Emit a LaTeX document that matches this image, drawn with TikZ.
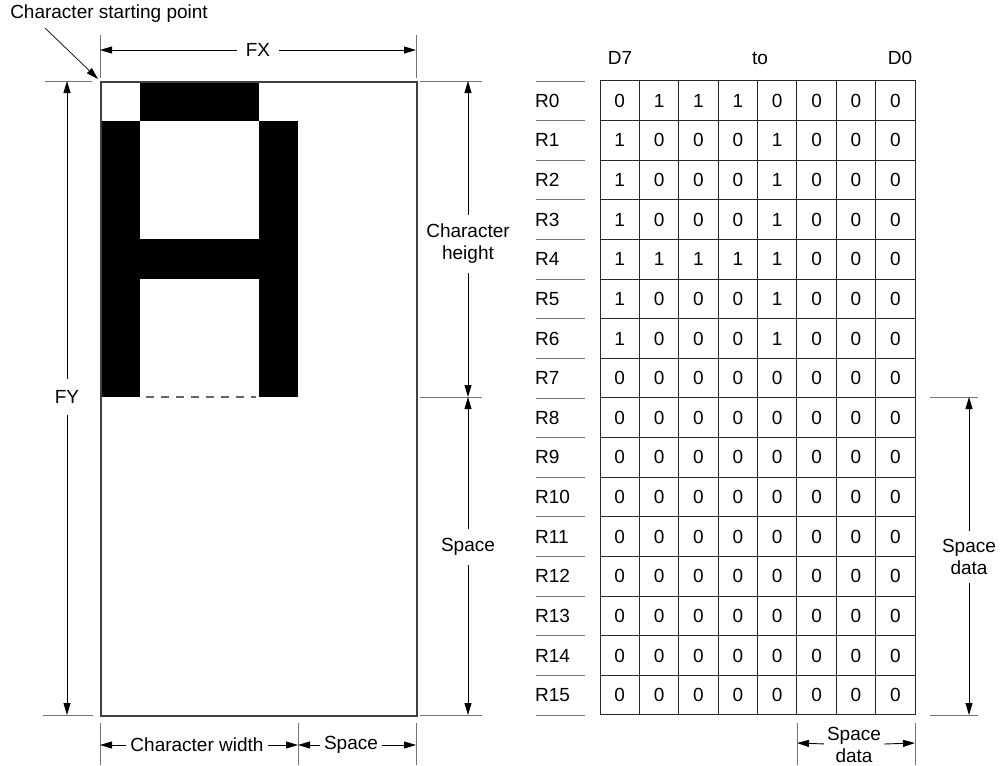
\documentclass[tikz,border=0pt]{standalone}
\usepackage{fontspec}
\setmainfont{Liberation Sans}
\usetikzlibrary{arrows.meta,positioning}
\newcommand{\dimfont}{\fontsize{19}{22}\selectfont}

\begin{document}
\begin{tikzpicture}[
  x=1pt, y=-1pt,
  tick/.style={draw=black!55, line width=1pt},
  dimarrow/.style={-{Triangle[length=12pt,width=7pt]}, line width=0.9pt},
  dimlabel/.style={font=\dimfont, align=center, inner sep=4pt},
  cell/.style={draw=black!85, line width=1pt, minimum width=39.375pt, minimum height=39.625pt, inner sep=0pt, font=\dimfont},
  rowlabel/.style={font=\dimfont, anchor=west, inner sep=0pt},
  pix/.style={fill=black}
]
  \useasboundingbox (0,0) rectangle (1002,766);

  % Glyph pixels
  \fill[pix] (100,120.5) rectangle (139.5,397);
  \fill[pix] (258.5,120.5) rectangle (298,397);
  \fill[pix] (139.5,81) rectangle (258.5,120.5);
  \fill[pix] (139.5,239) rectangle (258.5,278.5);
  \draw[black!60, line width=1.3pt, dash pattern=on 8pt off 7pt] (146,397) -- (256,397);

  % Character frame
  \node[draw=black!75, line width=1.5pt, minimum width=316pt, minimum height=634pt,
        inner sep=0pt, anchor=north west] (frame) at (100,81) {};

  % Character starting point
  \node[dimlabel, inner sep=1pt] (start) at (109,14) {Character starting point};
  \coordinate (startfoot) at (45,28);
  \coordinate (origin) at (98,79);
  \draw[dimarrow, line width=0.7pt] (startfoot) -- (origin);

  % FX
  \draw[tick] (100,35) -- (100,78);
  \draw[tick] (416,35) -- (416,78);
  \coordinate (fxL) at (100,50);
  \coordinate (fxR) at (416,50);
  \node[dimlabel, inner sep=9pt] (fx) at (258,50) {FX};
  \draw[dimarrow] (fx) -- (fxL);
  \draw[dimarrow] (fx) -- (fxR);

  % FY
  \draw[tick] (45,81) -- (92,81);
  \draw[tick] (43,715) -- (93,715);
  \coordinate (fyT) at (67,81);
  \coordinate (fyB) at (67,715);
  \node[dimlabel, inner sep=11pt] (fy) at (67,397) {FY};
  \draw[dimarrow] (fy) -- (fyT);
  \draw[dimarrow] (fy) -- (fyB);

  % Character height and space
  \draw[tick] (420,81) -- (482,81);
  \draw[tick] (420,397) -- (482,397);
  \draw[tick] (420,715) -- (482,715);
  \coordinate (chT) at (468,81);
  \coordinate (chB) at (468,397);
  \coordinate (spB) at (468,715);
  \node[dimlabel, inner sep=9pt] (charheight) at (468,244) {Character\\height};
  \draw[dimarrow] (charheight) -- (chT);
  \draw[dimarrow] (charheight) -- (chB);
  \node[dimlabel, inner sep=9pt] (space) at (468,547) {Space};
  \draw[dimarrow] (space) -- (chB);
  \draw[dimarrow] (space) -- (spB);

  % Character width and space
  \draw[tick] (100,723) -- (100,765);
  \draw[tick] (298,723) -- (298,765);
  \draw[tick] (416,723) -- (416,765);
  \coordinate (cwL) at (100,745);
  \coordinate (cwR) at (298,745);
  \coordinate (swR) at (416,745);
  \node[dimlabel] (charwidth) at (197,745) {Character width};
  \draw[dimarrow] (charwidth) -- (cwL);
  \draw[dimarrow] (charwidth) -- (cwR);
  \node[dimlabel] (spacew) at (351,745) {Space};
  \draw[dimarrow] (spacew) -- (cwR);
  \draw[dimarrow] (spacew) -- (swR);

  % Bit header
  \node[dimlabel] (d7) at (620,58) {D7};
  \node[dimlabel] (to) at (760,58) {to};
  \node[dimlabel] (d0) at (900,58) {D0};

  % Row separators
  \foreach \i in {0,...,16}
    \draw[tick] (536,81+39.625*\i) -- (585,81+39.625*\i);

  % Font data table
  \foreach \r/\bits in {0/{0,1,1,1,0,0,0,0}, 1/{1,0,0,0,1,0,0,0}, 2/{1,0,0,0,1,0,0,0},
      3/{1,0,0,0,1,0,0,0}, 4/{1,1,1,1,1,0,0,0}, 5/{1,0,0,0,1,0,0,0},
      6/{1,0,0,0,1,0,0,0}, 7/{0,0,0,0,0,0,0,0}, 8/{0,0,0,0,0,0,0,0},
      9/{0,0,0,0,0,0,0,0}, 10/{0,0,0,0,0,0,0,0}, 11/{0,0,0,0,0,0,0,0},
      12/{0,0,0,0,0,0,0,0}, 13/{0,0,0,0,0,0,0,0}, 14/{0,0,0,0,0,0,0,0},
      15/{0,0,0,0,0,0,0,0}} {
    \node[rowlabel] (r\r) at (535,100.8+39.625*\r) {R\r};
    \foreach \b [count=\c from 0] in \bits
      \node[cell] (c\r-\c) at (619.7+39.375*\c,100.8+39.625*\r) {\b};
  }

  % Space data (rows)
  \draw[tick] (930,397) -- (978,397);
  \draw[tick] (930,715) -- (978,715);
  \coordinate (sdT) at (969,397);
  \coordinate (sdB) at (969,715);
  \node[dimlabel, inner sep=8pt] (spacedata) at (969,557) {Space\\data};
  \draw[dimarrow] (spacedata) -- (sdT);
  \draw[dimarrow] (spacedata) -- (sdB);

  % Space data (columns)
  \draw[tick] (797,723) -- (797,765);
  \draw[tick] (915,723) -- (915,765);
  \coordinate (scL) at (797,743);
  \coordinate (scR) at (915,743);
  \node[dimlabel, inner sep=3pt] (spacecols) at (854,745) {Space\\data};
  \draw[dimarrow] (spacecols) -- (scL);
  \draw[dimarrow] (spacecols) -- (scR);
\end{tikzpicture}
\end{document}
